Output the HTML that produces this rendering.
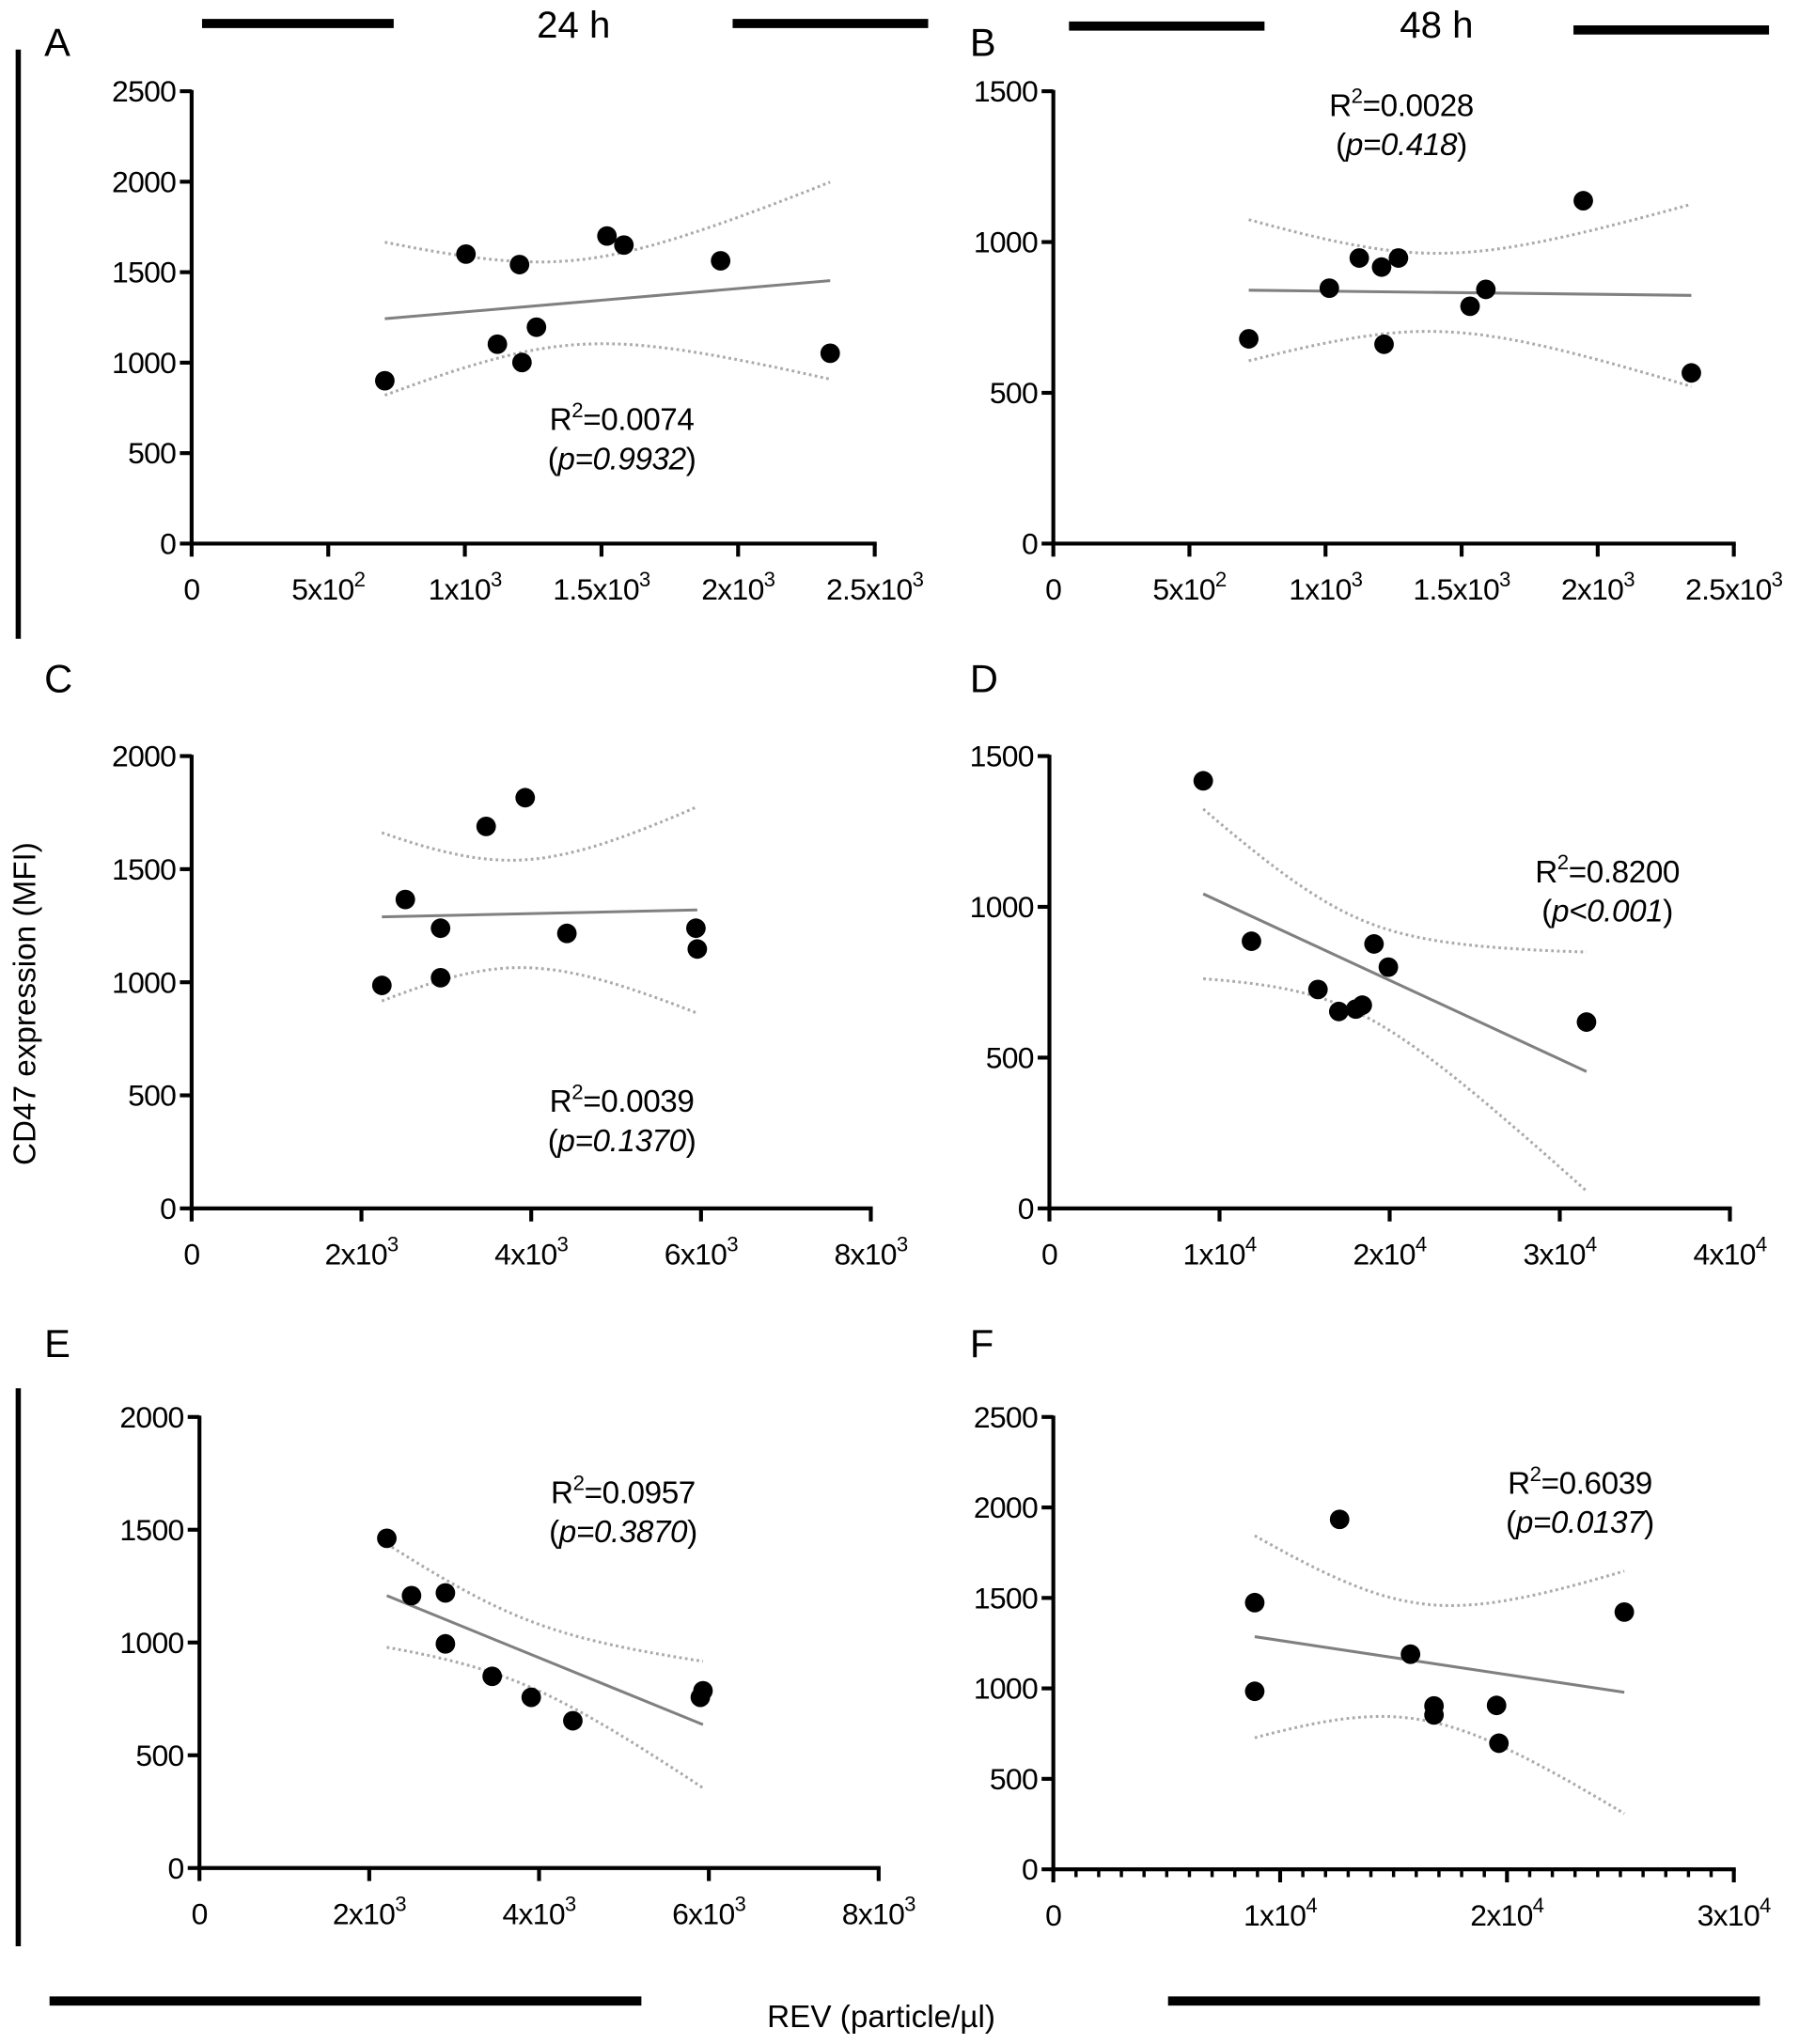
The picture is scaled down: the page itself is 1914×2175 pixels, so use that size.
<!DOCTYPE html>
<html><head><meta charset="utf-8"><style>
html,body{margin:0;padding:0;background:#fff}
svg{display:block;font-family:"Liberation Sans",Arial,sans-serif}
</style></head><body>
<svg id="fig" width="1914" height="2175" viewBox="0 0 1380 1568" preserveAspectRatio="none" xmlns="http://www.w3.org/2000/svg">
<rect width="1380" height="1568" fill="#fff"/>
<g>
<line x1="155" y1="18" x2="302" y2="18" stroke="#000" stroke-width="7"/>
<line x1="562" y1="18" x2="712" y2="18" stroke="#000" stroke-width="7"/>
<text x="440" y="29" font-size="29" text-anchor="middle">24 h</text></g>
<g>
<line x1="820" y1="20" x2="970" y2="20" stroke="#000" stroke-width="7"/>
<line x1="1207" y1="23" x2="1357" y2="23" stroke="#000" stroke-width="7"/>
<text x="1102" y="29" font-size="29" text-anchor="middle">48 h</text></g>
<line x1="14" y1="38" x2="14" y2="490" stroke="#000" stroke-width="4"/>
<line x1="14" y1="1065" x2="14" y2="1493" stroke="#000" stroke-width="4"/>
<line x1="38" y1="1535" x2="492" y2="1535" stroke="#000" stroke-width="7"/>
<line x1="896" y1="1535" x2="1350" y2="1535" stroke="#000" stroke-width="7"/>
<text x="676" y="1555" font-size="24" text-anchor="middle">REV (particle/µl)</text>
<text transform="translate(27,770) rotate(-90)" font-size="24" text-anchor="middle">CD47 expression (MFI)</text>
<g id="panels"></g>
</svg>
<script>
// Panel A data
const aX=[707,1004,1200,1119,1262,1209,1520,1582,1936,2337];
const aY=[900,1600,1542,1102,1196,1001,1700,1650,1563,1052];
// Panel B data
const bX=[718,1014,1124,1206,1268,1215,1531,1589,1947,2344];
const bY=[679,847,947,917,947,661,787,843,1137,566];
// Panel C data
const cX=[2241,2517,2932,2932,3469,3929,4420,5940,5956];
const cY=[986,1366,1239,1020,1689,1816,1216,1239,1147];
// Panel D data
const dX=[9042,11877,15785,17011,18008,18391,19080,19923,31571];
const dY=[1418,886,726,653,661,674,877,800,618];
// Panel E data
const eX=[2207,2498,2897,2897,3448,3908,4398,5900,5931];
const eY=[1462,1208,1220,994,850,757,653,757,786];
// Panel F data
const fX=[8879,8879,12621,15747,16782,16782,19540,19644,25172];
const fY=[1474,984,1934,1189,903,853,906,697,1422];
// tick labels [mantissa, exponent]
const xTicksA=[["0",""],["5x10","2"],["1x10","3"],["1.5x10","3"],["2x10","3"],["2.5x10","3"]];
const xTicksC=[["0",""],["2x10","3"],["4x10","3"],["6x10","3"],["8x10","3"]];
const xTicksD=[["0",""],["1x10","4"],["2x10","4"],["3x10","4"],["4x10","4"]];
const xTicksF=[["0",""],["1x10","4"],["2x10","4"],["3x10","4"]];
const yTicks2500=[0,500,1000,1500,2000,2500];
const yTicks2000=[0,500,1000,1500,2000];
const yTicks1500=[0,500,1000,1500];
const statsA=["0.0074","p=0.9932"],statsB=["0.0028","p=0.418"],statsC=["0.0039","p=0.1370"],
statsD=["0.8200","p<0.001"],statsE=["0.0957","p=0.3870"],statsF=["0.6039","p=0.0137"];

const NS="http://www.w3.org/2000/svg";
const root=document.getElementById('panels');
function mk(tag,attrs,parent){const e=document.createElementNS(NS,tag);for(const k in attrs)e.setAttribute(k,attrs[k]);parent.appendChild(e);return e;}
const tTab={7:2.365,8:2.306,9:2.262};

function panel(cfg){
  const g=mk('g',{},root);
  
  
  const sx=v=>cfg.x0+(v/cfg.xmax)*(cfg.x1-cfg.x0);
  const sy=v=>cfg.y0-(v/cfg.ymax)*(cfg.y0-cfg.y1);
  const lab=mk('text',{x:cfg.lx,y:cfg.ly,'font-size':30},g);lab.textContent=cfg.id;
  
  
  const ya=mk('line',{x1:cfg.x0,y1:cfg.y0+1.5,x2:cfg.x0,y2:cfg.y1-1,stroke:'#000','stroke-width':3},g);
  
  
  const xa=mk('line',{x1:cfg.x0-1.5,y1:cfg.y0,x2:cfg.x1+1.5,y2:cfg.y0,stroke:'#000','stroke-width':3},g);
  
  
  cfg.yt.forEach(v=>{
    mk('line',{x1:cfg.x0-9,y1:sy(v),x2:cfg.x0,y2:sy(v),stroke:'#000','stroke-width':3},g);
    const t=mk('text',{x:cfg.x0-12,y:sy(v)+8,'font-size':23,'text-anchor':'end','letter-spacing':'-0.5'},g);t.textContent=v;
    
    
  });
  const n=cfg.xt.length-1;
  if(cfg.minor){for(let i=1;i<n*10;i++){if(i%10==0)continue;const v=cfg.xmax*i/(n*10);
    mk('line',{x1:sx(v),y1:cfg.y0,x2:sx(v),y2:cfg.y0+6,stroke:'#000','stroke-width':2.5},g);}}
  cfg.xt.forEach((lb,i)=>{
    const v=cfg.xmax*i/n,x=sx(v);
    mk('line',{x1:x,y1:cfg.y0,x2:x,y2:cfg.y0+10,stroke:'#000','stroke-width':3},g);
    const t=mk('text',{x:x,y:cfg.y0+43,'font-size':23,'text-anchor':'middle','letter-spacing':'-0.5'},g);
    
    
    const a=mk('tspan',{},t);a.textContent=lb[0];
    if(lb[1]){const b=mk('tspan',{'font-size':16,dy:-10},t);b.textContent=lb[1];}
  });
  const X=cfg.X,Y=cfg.Y,N=X.length;
  const mx=X.reduce((a,b)=>a+b)/N,my=Y.reduce((a,b)=>a+b)/N;
  let sxx=0,sxy=0;X.forEach((x,i)=>{sxx+=(x-mx)**2;sxy+=(x-mx)*(Y[i]-my);});
  const sl=sxy/sxx,ic=my-sl*mx;let sse=0;X.forEach((x,i)=>{sse+=(Y[i]-ic-sl*x)**2;});
  const s=Math.sqrt(sse/(N-2)),tv=tTab[N-2]||2.3;
  const xmin=Math.min(...X),xmx=Math.max(...X);
  const fit=mk('line',{x1:sx(xmin),y1:sy(ic+sl*xmin),x2:sx(xmx),y2:sy(ic+sl*xmx),stroke:'#808080','stroke-width':2.2},g);
  
  
  [1,-1].forEach(sg=>{
    let d='';for(let k=0;k<=60;k++){const x=xmin+(xmx-xmin)*k/60;
      const y=ic+sl*x+sg*tv*s*Math.sqrt(1/N+(x-mx)**2/sxx);d+=(k?'L':'M')+sx(x).toFixed(1)+','+sy(y).toFixed(1);}
    const p=mk('path',{d:d,fill:'none',stroke:'#aaa','stroke-width':2.2,'stroke-dasharray':'2 2.5'},g);
    
    
  });
  X.forEach((x,i)=>{
    const c=mk('circle',{cx:sx(x),cy:sy(Y[i]),r:7.5,fill:'#000'},g);
    
    
  });
  const t1=mk('text',{x:cfg.sx,y:cfg.sy,'font-size':24,'text-anchor':'middle','letter-spacing':'-0.3'},g);
  
  
  mk('tspan',{},t1).textContent='R';mk('tspan',{'font-size':16,dy:-10},t1).textContent='2';
  mk('tspan',{dy:10},t1).textContent='='+cfg.st[0];
  const t2=mk('text',{x:cfg.sx,y:cfg.sy+30,'font-size':24,'text-anchor':'middle','letter-spacing':'-0.3'},g);
  
  
  mk('tspan',{},t2).textContent='(';mk('tspan',{'font-style':'italic'},t2).textContent=cfg.st[1];mk('tspan',{},t2).textContent=')';
}
panel({id:'A',lx:34,ly:43,x0:147,x1:671,y0:417,y1:70,xmax:2500,ymax:2500,X:aX,Y:aY,xt:xTicksA,yt:yTicks2500,st:statsA,sx:477,sy:330});
panel({id:'B',lx:744,ly:43,x0:808,x1:1330,y0:417,y1:70,xmax:2500,ymax:1500,X:bX,Y:bY,xt:xTicksA,yt:yTicks1500,st:statsB,sx:1075,sy:89});
panel({id:'C',lx:34,ly:531,x0:147,x1:668,y0:927,y1:580,xmax:8000,ymax:2000,X:cX,Y:cY,xt:xTicksC,yt:yTicks2000,st:statsC,sx:477,sy:853});
panel({id:'D',lx:744,ly:531,x0:805,x1:1327,y0:927,y1:580,xmax:40000,ymax:1500,X:dX,Y:dY,xt:xTicksD,yt:yTicks1500,st:statsD,sx:1233,sy:677});
panel({id:'E',lx:34,ly:1041,x0:153,x1:674,y0:1433,y1:1087,xmax:8000,ymax:2000,X:eX,Y:eY,xt:xTicksC,yt:yTicks2000,st:statsE,sx:478,sy:1153});
panel({id:'F',lx:744,ly:1041,x0:808,x1:1330,y0:1434,y1:1087,xmax:30000,ymax:2500,X:fX,Y:fY,xt:xTicksF,yt:yTicks2500,st:statsF,sx:1212,sy:1146,minor:true});
</script>
</body></html>
